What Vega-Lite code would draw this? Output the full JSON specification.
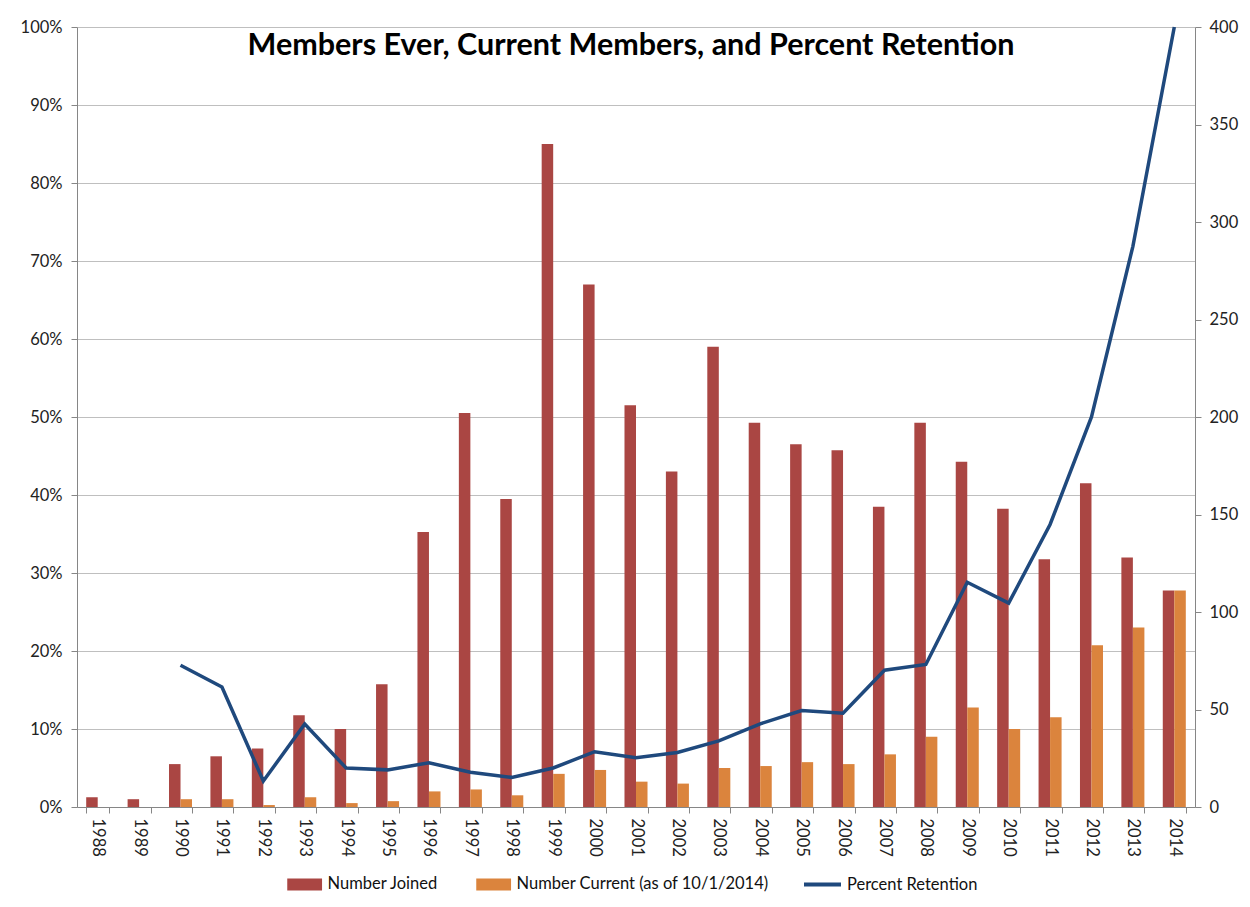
{
  "$schema": "https://vega.github.io/schema/vega-lite/v6.json",
  "width": 1118,
  "height": 780,
  "autosize": {"type": "none"},
  "padding": {"left": 77, "top": 27, "right": 55, "bottom": 100},
  "background": "white",
  "title": {
    "text": "Members Ever, Current Members, and Percent Retention",
    "font": "Lato", "fontSize": 30.5, "fontWeight": "bold", "color": "#000000",
    "anchor": "middle", "frame": "group", "offset": -66, "baseline": "alphabetic", "dx": -5
  },
  "datasets": {
    "bars": [
      {"year": "1988", "series": "Number Joined", "count": 5},
      {"year": "1989", "series": "Number Joined", "count": 4},
      {"year": "1990", "series": "Number Joined", "count": 22},
      {"year": "1991", "series": "Number Joined", "count": 26},
      {"year": "1992", "series": "Number Joined", "count": 30},
      {"year": "1993", "series": "Number Joined", "count": 47},
      {"year": "1994", "series": "Number Joined", "count": 40},
      {"year": "1995", "series": "Number Joined", "count": 63},
      {"year": "1996", "series": "Number Joined", "count": 141},
      {"year": "1997", "series": "Number Joined", "count": 202},
      {"year": "1998", "series": "Number Joined", "count": 158},
      {"year": "1999", "series": "Number Joined", "count": 340},
      {"year": "2000", "series": "Number Joined", "count": 268},
      {"year": "2001", "series": "Number Joined", "count": 206},
      {"year": "2002", "series": "Number Joined", "count": 172},
      {"year": "2003", "series": "Number Joined", "count": 236},
      {"year": "2004", "series": "Number Joined", "count": 197},
      {"year": "2005", "series": "Number Joined", "count": 186},
      {"year": "2006", "series": "Number Joined", "count": 183},
      {"year": "2007", "series": "Number Joined", "count": 154},
      {"year": "2008", "series": "Number Joined", "count": 197},
      {"year": "2009", "series": "Number Joined", "count": 177},
      {"year": "2010", "series": "Number Joined", "count": 153},
      {"year": "2011", "series": "Number Joined", "count": 127},
      {"year": "2012", "series": "Number Joined", "count": 166},
      {"year": "2013", "series": "Number Joined", "count": 128},
      {"year": "2014", "series": "Number Joined", "count": 111},
      {"year": "1990", "series": "Number Current (as of 10/1/2014)", "count": 4},
      {"year": "1991", "series": "Number Current (as of 10/1/2014)", "count": 4},
      {"year": "1992", "series": "Number Current (as of 10/1/2014)", "count": 1},
      {"year": "1993", "series": "Number Current (as of 10/1/2014)", "count": 5},
      {"year": "1994", "series": "Number Current (as of 10/1/2014)", "count": 2},
      {"year": "1995", "series": "Number Current (as of 10/1/2014)", "count": 3},
      {"year": "1996", "series": "Number Current (as of 10/1/2014)", "count": 8},
      {"year": "1997", "series": "Number Current (as of 10/1/2014)", "count": 9},
      {"year": "1998", "series": "Number Current (as of 10/1/2014)", "count": 6},
      {"year": "1999", "series": "Number Current (as of 10/1/2014)", "count": 17},
      {"year": "2000", "series": "Number Current (as of 10/1/2014)", "count": 19},
      {"year": "2001", "series": "Number Current (as of 10/1/2014)", "count": 13},
      {"year": "2002", "series": "Number Current (as of 10/1/2014)", "count": 12},
      {"year": "2003", "series": "Number Current (as of 10/1/2014)", "count": 20},
      {"year": "2004", "series": "Number Current (as of 10/1/2014)", "count": 21},
      {"year": "2005", "series": "Number Current (as of 10/1/2014)", "count": 23},
      {"year": "2006", "series": "Number Current (as of 10/1/2014)", "count": 22},
      {"year": "2007", "series": "Number Current (as of 10/1/2014)", "count": 27},
      {"year": "2008", "series": "Number Current (as of 10/1/2014)", "count": 36},
      {"year": "2009", "series": "Number Current (as of 10/1/2014)", "count": 51},
      {"year": "2010", "series": "Number Current (as of 10/1/2014)", "count": 40},
      {"year": "2011", "series": "Number Current (as of 10/1/2014)", "count": 46},
      {"year": "2012", "series": "Number Current (as of 10/1/2014)", "count": 83},
      {"year": "2013", "series": "Number Current (as of 10/1/2014)", "count": 92},
      {"year": "2014", "series": "Number Current (as of 10/1/2014)", "count": 111}
    ],
    "retention": [
      {"year": "1990", "pct": 0.1818},
      {"year": "1991", "pct": 0.1538},
      {"year": "1992", "pct": 0.0333},
      {"year": "1993", "pct": 0.1064},
      {"year": "1994", "pct": 0.05},
      {"year": "1995", "pct": 0.0476},
      {"year": "1996", "pct": 0.0567},
      {"year": "1997", "pct": 0.0446},
      {"year": "1998", "pct": 0.038},
      {"year": "1999", "pct": 0.05},
      {"year": "2000", "pct": 0.0709},
      {"year": "2001", "pct": 0.0631},
      {"year": "2002", "pct": 0.0698},
      {"year": "2003", "pct": 0.0847},
      {"year": "2004", "pct": 0.1066},
      {"year": "2005", "pct": 0.1237},
      {"year": "2006", "pct": 0.1202},
      {"year": "2007", "pct": 0.1753},
      {"year": "2008", "pct": 0.1827},
      {"year": "2009", "pct": 0.2881},
      {"year": "2010", "pct": 0.2614},
      {"year": "2011", "pct": 0.3622},
      {"year": "2012", "pct": 0.5},
      {"year": "2013", "pct": 0.7188},
      {"year": "2014", "pct": 1.0}
    ]
  },
  "layer": [
    {
      "data": {"name": "bars"},
      "mark": {"type": "bar"},
      "encoding": {
        "x": {
          "field": "year", "type": "nominal", "sort": "ascending",
          "scale": {"paddingInner": 0.444, "paddingOuter": 0.222},
          "axis": {
            "title": null, "labelAngle": 90, "tickBand": "extent",
            "domainColor": "#868686", "tickColor": "#868686", "tickSize": 6,
            "labelFont": "Lato", "labelFontSize": 16.5, "labelColor": "#222222",
            "labelPadding": 5, "grid": false
          }
        },
        "xOffset": {
          "field": "series", "type": "nominal",
          "scale": {"domain": ["Number Joined", "Number Current (as of 10/1/2014)"], "paddingInner": 0, "paddingOuter": 0}
        },
        "y": {
          "field": "count", "type": "quantitative",
          "scale": {"domain": [0, 400], "nice": false},
          "axis": {
            "orient": "right", "title": null, "grid": false,
            "values": [0, 50, 100, 150, 200, 250, 300, 350, 400],
            "domainColor": "#868686", "tickColor": "#868686", "tickSize": 6,
            "labelFont": "Lato", "labelFontSize": 16.5, "labelColor": "#222222", "labelPadding": 8
          }
        },
        "color": {
          "field": "series", "type": "nominal",
          "scale": {"domain": ["Number Joined", "Number Current (as of 10/1/2014)"], "range": ["#AA4643", "#DB843D"]},
          "legend": {
            "title": null, "orient": "none", "legendX": 208, "legendY": 849,
            "direction": "horizontal", "padding": 0,
            "symbolType": "M-1,-1H4.8V1H-1Z", "symbolSize": 144,
            "symbolStrokeWidth": 0, "symbolOpacity": 1,
            "labelFont": "Lato", "labelFontSize": 16.5, "labelColor": "#111111",
            "labelOffset": 26, "columnPadding": 35, "labelLimit": 400
          }
        }
      }
    },
    {
      "data": {"name": "retention"},
      "mark": {"type": "line", "strokeWidth": 3.5},
      "encoding": {
        "x": {"field": "year", "type": "nominal", "sort": "ascending"},
        "y": {
          "field": "pct", "type": "quantitative",
          "scale": {"domain": [0, 1], "nice": false},
          "axis": {
            "orient": "left", "title": null, "format": ".0%", "grid": true,
            "values": [0, 0.1, 0.2, 0.3, 0.4, 0.5, 0.6, 0.7, 0.8, 0.9, 1.0],
            "gridColor": "#BFBFBF", "gridWidth": 1,
            "domainColor": "#868686", "tickColor": "#868686", "tickSize": 6,
            "labelFont": "Lato", "labelFontSize": 16.5, "labelColor": "#222222", "labelPadding": 9
          }
        },
        "stroke": {
          "datum": "Percent Retention", "type": "nominal",
          "scale": {"range": ["#1F497D"]},
          "legend": {
            "title": null, "orient": "none", "legendX": 725, "legendY": 837,
            "direction": "horizontal", "padding": 0,
            "symbolType": "stroke", "symbolSize": 1369, "symbolStrokeWidth": 4,
            "labelFont": "Lato", "labelFontSize": 16.5, "labelColor": "#111111",
            "labelOffset": 4, "labelLimit": 400
          }
        }
      }
    }
  ],
  "resolve": {"scale": {"y": "independent", "color": "independent", "stroke": "independent"}},
  "config": {"view": {"stroke": null}}
}
